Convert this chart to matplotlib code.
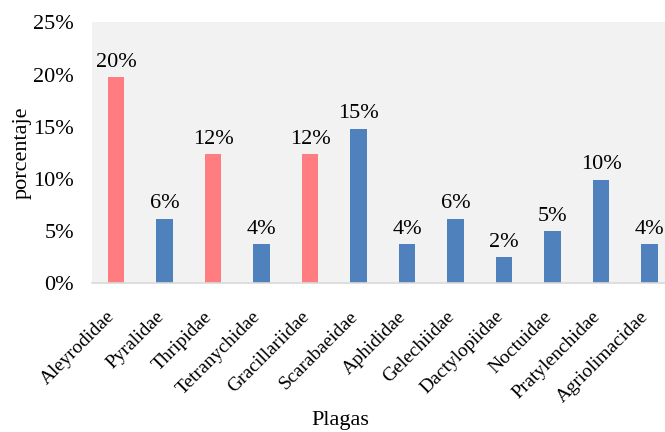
import matplotlib.pyplot as plt
from matplotlib.ticker import PercentFormatter
from matplotlib.transforms import ScaledTranslation

plagas = ['Aleyrodidae', 'Pyralidae', 'Thripidae', 'Tetranychidae', 'Gracillariidae',
          'Scarabaeidae', 'Aphididae', 'Gelechiidae', 'Dactylopiidae', 'Noctuidae',
          'Pratylenchidae', 'Agriolimacidae']
porcentaje = [19.75, 6.17, 12.35, 3.70, 12.35, 14.81, 3.70, 6.17, 2.47, 4.94, 9.88, 3.70]
destacada = [True, False, True, False, True, False, False, False, False, False, False, False]

plt.rcParams['font.family'] = ['Liberation Serif', 'DejaVu Serif']

colores = ['#FF7C80' if d else '#4F81BD' for d in destacada]

fig = plt.figure(figsize=(6.65, 4.32), dpi=100)
ax = fig.add_axes([0.1383, 0.345, 0.875, 0.603])
ax.set_facecolor('#F2F2F2')

x = range(len(plagas))
barras = ax.bar(x, porcentaje, width=0.34, color=colores, zorder=2)

for b, v in zip(barras, porcentaje):
    ax.annotate(f'{v:.0f}%', (b.get_x() + b.get_width() / 2, v),
                xytext=(0, 4), textcoords='offset points',
                ha='center', va='bottom', fontsize=16)

ax.set_xlim(-0.5, 11.5)
ax.set_ylim(0, 25)
ax.set_yticks([0, 5, 10, 15, 20, 25])
ax.yaxis.set_major_formatter(PercentFormatter(decimals=0))
ax.set_xticks(list(x))
ax.set_xticklabels(plagas, rotation=45, ha='right', rotation_mode='anchor')
ax.tick_params(axis='y', length=0, labelsize=16, pad=13)
ax.tick_params(axis='x', length=0, labelsize=14, pad=12)

# desplazar las etiquetas inclinadas un poco hacia abajo y a la izquierda
desplazamiento = ScaledTranslation(-7 / 72, -6 / 72, fig.dpi_scale_trans)
for lbl in ax.get_xticklabels():
    lbl.set_transform(lbl.get_transform() + desplazamiento)

for s in ['top', 'right', 'left']:
    ax.spines[s].set_visible(False)
ax.spines['bottom'].set_color('#D9D9D9')
ax.spines['bottom'].set_linewidth(1.2)

ax.set_ylabel('porcentaje', fontsize=16)
ax.yaxis.set_label_coords(-0.103, 0.5)
fig.text(340 / 665, 1 - 420 / 432, 'Plagas', fontsize=16, ha='center', va='center')

fig.savefig('out.png', dpi=100)
